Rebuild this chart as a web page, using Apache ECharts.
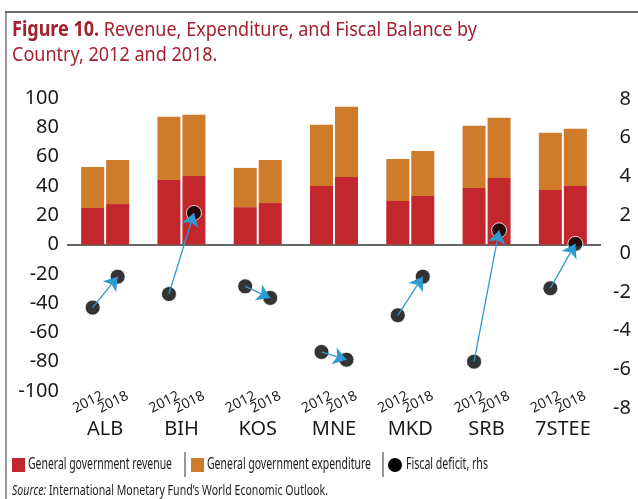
<!DOCTYPE html>
<html><head><meta charset="utf-8">
<script src="https://cdn.jsdelivr.net/npm/echarts@6/dist/echarts.min.js"></script>
<style>html,body{margin:0;padding:0;background:#fff}#c{width:638px;height:499px}</style>
</head><body><div id="c"></div>
<script>
// ---- data ----
const countries = ['ALB','BIH','KOS','MNE','MKD','SRB','7STEE'];
const years = ['2012','2018'];
const revenue2012 = [24.9, 44.0, 25.5, 39.9, 29.7, 38.6, 37.2];
const expenditure2012 = [28.0, 43.2, 26.8, 41.8, 28.7, 42.4, 39.0];
const revenue2018 = [27.6, 46.8, 28.3, 46.1, 33.1, 45.4, 39.9];
const expenditure2018 = [30.1, 41.8, 29.4, 47.9, 30.8, 41.1, 39.1];
const deficit2012 = [-2.8, -2.1, -1.7, -5.1, -3.2, -5.6, -1.8];
const deficit2018 = [-1.2, 2.1, -2.3, -5.5, -1.2, 1.2, 0.5];
const leftAxisTicks = {min: -100, max: 100, interval: 20};
const rightAxisTicks = {min: -8, max: 8, interval: 2};
const seriesNames = ['General government revenue', 'General government expenditure', 'Fiscal deficit, rhs'];
const titleBold = 'Figure 10.';
const titleRest1 = ' Revenue, Expenditure, and Fiscal Balance by';
const titleLine2 = 'Country, 2012 and 2018.';
const sourceLabel = 'Source:';
const sourceText = ' International Monetary Fund\u2019s World Economic Outlook.';

// ---- layout / style ----
const FONT = '"Noto Sans", "Open Sans", sans-serif';
const RED = '#c1272d', ORANGE = '#cf7b2c', BLUE = '#2b9bd1', TITLE = '#a3202e', INK = '#1a1a1a';
const GL = 67, GR = 37, GW = 638 - GL - GR;
const BAR_W = 23, BAR_GAP = 2;
const band = GW / countries.length;
const off = (BAR_W + BAR_GAP) / 2 / band;

const cv = document.createElement('canvas').getContext('2d');
function tw(text, font) { cv.font = font; return cv.measureText(text).width; }
function fitScale(parts, target) {
  let s = 0; parts.forEach(p => s += tw(p[0], p[1])); return target / s;
}

const chart = echarts.init(document.getElementById('c'), null, {renderer: 'canvas'});

// scatter + arrows data
const dots = [];
const arrows = [];
countries.forEach((c, i) => {
  dots.push([i - off, deficit2012[i]]);
  dots.push([i + off, deficit2018[i]]);
  arrows.push({coords: [[i - off, deficit2012[i]], [i + off, deficit2018[i]]]});
});
const pos2012 = countries.map((c, i) => i - off);
const pos2018 = countries.map((c, i) => i + off);

// graphics: title / legend / source with condensed (scaled) text
const g = [];
g.push({type: 'line', shape: {x1: 5, y1: 12, x2: 638, y2: 12}, style: {stroke: '#6b6b6b', lineWidth: 2}, silent: true});
g.push({type: 'line', shape: {x1: 6, y1: 12, x2: 6, y2: 499}, style: {stroke: '#555', lineWidth: 1.2}, silent: true});

const tFS = 20.5;
const fB = 'bold ' + tFS + 'px ' + FONT, fR = tFS + 'px ' + FONT;
const ts = fitScale([[titleBold, fB], [titleRest1, fR]], 465);
g.push({type: 'text', x: 12, y: 30, scaleX: ts, style: {text: titleBold, font: fB, fill: TITLE, verticalAlign: 'middle', align: 'left'}});
g.push({type: 'text', x: 12 + ts * tw(titleBold, fB), y: 30, scaleX: ts, style: {text: titleRest1, font: fR, fill: TITLE, verticalAlign: 'middle', align: 'left'}});
g.push({type: 'text', x: 12, y: 55.5, scaleX: ts, style: {text: titleLine2, font: fR, fill: TITLE, verticalAlign: 'middle', align: 'left'}});

const lFS = 15.5, lF = lFS + 'px ' + FONT;
const LY = 465;
function legText(t, x, width) {
  const s = width / tw(t, lF);
  g.push({type: 'text', x: x, y: LY, scaleX: s, style: {text: t, font: lF, fill: INK, verticalAlign: 'middle', align: 'left'}});
}
g.push({type: 'rect', shape: {x: 12, y: 458, width: 13, height: 14}, style: {fill: RED}});
legText(seriesNames[0], 28, 144);
g.push({type: 'line', shape: {x1: 185, y1: 452, x2: 185, y2: 477}, style: {stroke: '#333', lineWidth: 1}});
g.push({type: 'rect', shape: {x: 191, y: 458, width: 13, height: 14}, style: {fill: ORANGE}});
legText(seriesNames[1], 207, 164);
g.push({type: 'line', shape: {x1: 383, y1: 452, x2: 383, y2: 477}, style: {stroke: '#333', lineWidth: 1}});
g.push({type: 'circle', shape: {cx: 395, cy: 465, r: 7}, style: {fill: '#000'}});
legText(seriesNames[2], 406, 82);

const sFS = 15;
const sFI = 'italic ' + sFS + 'px ' + FONT, sF = sFS + 'px ' + FONT;
const ss = fitScale([[sourceLabel, sFI], [sourceText, sF]], 316);
g.push({type: 'text', x: 12, y: 491, scaleX: ss, style: {text: sourceLabel, font: sFI, fill: INK, verticalAlign: 'middle', align: 'left'}});
g.push({type: 'text', x: 12 + ss * tw(sourceLabel, sFI), y: 491, scaleX: ss, style: {text: sourceText, font: sF, fill: INK, verticalAlign: 'middle', align: 'left'}});

const axisFont = {fontFamily: FONT, fontSize: 20, color: INK};
function yearAxis(positions, label) {
  return {gridIndex: 0, type: 'value', min: -0.5, max: 6.5, position: 'bottom',
    axisLine: {show: false}, axisTick: {show: false}, splitLine: {show: false},
    axisLabel: {customValues: positions, rotate: 27, align: 'center', verticalAlign: 'middle',
      showMinLabel: true, showMaxLabel: true, hideOverlap: false,
      margin: 9, padding: [0, 10, 0, 0], fontFamily: FONT, fontSize: 14, color: INK,
      formatter: () => label}};
}

const option = {
  animation: false,
  backgroundColor: '#fff',
  grid: [
    {left: GL, right: GR, top: 98, height: 293, outerBoundsMode: 'none', containLabel: false},
    {left: GL, right: GR, top: 99, height: 309, outerBoundsMode: 'none', containLabel: false}
  ],
  xAxis: [
    {gridIndex: 0, type: 'category', data: countries, position: 'bottom',
     axisLine: {show: false}, axisTick: {show: false}, splitLine: {show: false},
     axisLabel: Object.assign({margin: 28, interval: 0}, axisFont)},
    {gridIndex: 1, type: 'value', min: -0.5, max: 6.5, show: false},
    yearAxis(pos2012, years[0]),
    yearAxis(pos2018, years[1])
  ],
  yAxis: [
    {gridIndex: 0, type: 'value', position: 'left', min: leftAxisTicks.min, max: leftAxisTicks.max, interval: leftAxisTicks.interval,
     axisLine: {show: false}, axisTick: {show: false}, splitLine: {show: false},
     axisLabel: Object.assign({margin: 8}, axisFont)},
    {gridIndex: 1, type: 'value', position: 'right', min: rightAxisTicks.min, max: rightAxisTicks.max, interval: rightAxisTicks.interval,
     axisLine: {show: false}, axisTick: {show: false}, splitLine: {show: false},
     axisLabel: Object.assign({margin: 30, align: 'right'}, axisFont)}
  ],
  series: [
    {name: seriesNames[0] + ' 2012', type: 'bar', stack: 'y2012', xAxisIndex: 0, yAxisIndex: 0, data: revenue2012,
     barWidth: BAR_W, barGap: (BAR_GAP / BAR_W * 100) + '%', itemStyle: {color: RED},
     markLine: {silent: true, symbol: 'none', label: {show: false}, lineStyle: {color: '#333', width: 1.5, type: 'solid'},
       data: [{yAxis: 0}], z: 1}},
    {name: seriesNames[1] + ' 2012', type: 'bar', stack: 'y2012', xAxisIndex: 0, yAxisIndex: 0, data: expenditure2012,
     barWidth: BAR_W, barGap: (BAR_GAP / BAR_W * 100) + '%', itemStyle: {color: ORANGE}},
    {name: seriesNames[0] + ' 2018', type: 'bar', stack: 'y2018', xAxisIndex: 0, yAxisIndex: 0, data: revenue2018,
     barWidth: BAR_W, barGap: (BAR_GAP / BAR_W * 100) + '%', itemStyle: {color: RED}},
    {name: seriesNames[1] + ' 2018', type: 'bar', stack: 'y2018', xAxisIndex: 0, yAxisIndex: 0, data: expenditure2018,
     barWidth: BAR_W, barGap: (BAR_GAP / BAR_W * 100) + '%', itemStyle: {color: ORANGE}},
    {name: seriesNames[2], type: 'scatter', xAxisIndex: 1, yAxisIndex: 1, data: dots, symbolSize: 15, z: 5,
     itemStyle: {color: '#000', borderColor: '#fff', borderWidth: 1}},
    {name: 'change', type: 'lines', coordinateSystem: 'cartesian2d', xAxisIndex: 1, yAxisIndex: 1, data: arrows, z: 6,
     symbol: ['none', 'arrow'], symbolSize: 13, lineStyle: {color: BLUE, width: 1.3, opacity: 1}}
  ],
  graphic: g
};
chart.setOption(option);
</script>
</body></html>
